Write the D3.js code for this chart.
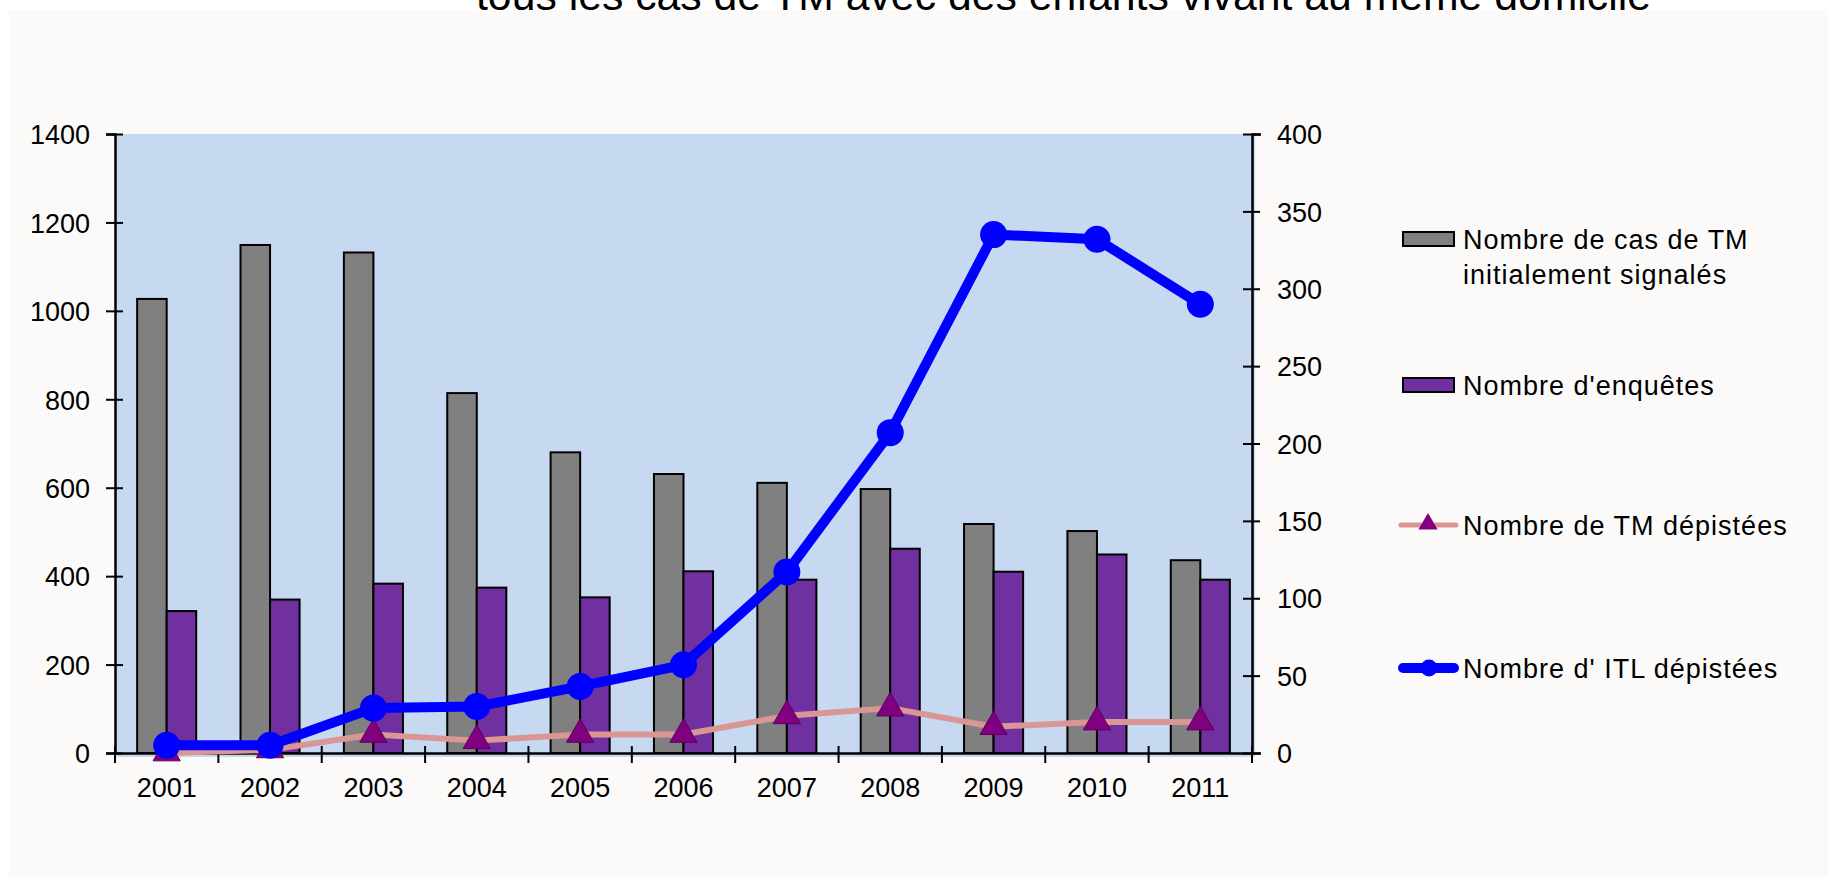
<!DOCTYPE html>
<html lang="fr">
<head>
<meta charset="utf-8">
<title>Cas de TM et ITL dépistées, 2001-2011</title>
<script src="https://cdn.jsdelivr.net/npm/d3@7/dist/d3.min.js"></script>
<style>
  html, body { margin: 0; padding: 0; background: #ffffff; }
  svg { display: block; }
  text { font-family: "Liberation Sans", Arial, Helvetica, sans-serif; fill: #000; }
</style>
</head>
<body>
<svg id="chart" width="1828" height="877"></svg>
<script>
// Years on the category axis
const years = ["2001", "2002", "2003", "2004", "2005", "2006", "2007", "2008", "2009", "2010", "2011"];

// Bars, left axis
const casSignales = [1027, 1149, 1132, 814, 680, 631, 611, 597, 518, 502, 436];
const enquetes    = [321, 347, 383, 374, 352, 411, 392, 462, 410, 449, 392];

// Lines, right axis
const tmDepistees  = [0, 2, 12, 8, 12, 12, 24, 29, 17, 20, 20];
const itlDepistees = [5, 5, 29, 30, 43, 57, 117, 207, 335, 332, 290];

// Tick values
const leftTicks  = [0, 200, 400, 600, 800, 1000, 1200, 1400];
const rightTicks = [0, 50, 100, 150, 200, 250, 300, 350, 400];

const titleText = "tous les cas de TM avec des enfants vivant au même domicile";

const legendItems = [
  { key: "cas", lines: ["Nombre de cas de TM", "initialement signalés"] },
  { key: "enq", lines: ["Nombre d'enquêtes"] },
  { key: "tm",  lines: ["Nombre de TM dépistées"] },
  { key: "itl", lines: ["Nombre d' ITL dépistées"] }
];

const colors = {
  page: "#ffffff",
  chartBg: "#fbfaf8",
  plotBg: "#c6d9f1",
  cas: "#808080",
  enq: "#7030a0",
  tmLine: "#d99694",
  tmMarker: "#800080",
  tmMarkerStroke: "#5c005c",
  itl: "#0000ff"
};

const svg = d3.select("#chart");

// Title (sits above the chart area, which overlaps its lower part)
svg.append("text")
  .attr("x", 476)
  .attr("y", 10)
  .attr("font-size", 43)
  .attr("textLength", 1175)
  .attr("lengthAdjust", "spacingAndGlyphs")
  .text(titleText);

// Chart area
svg.append("rect")
  .attr("x", 9).attr("y", 10)
  .attr("width", 1828 - 9).attr("height", 877 - 10)
  .attr("fill", colors.chartBg);

const plot = { left: 115, right: 1252, top: 134, bottom: 753 };

const x = d3.scaleBand().domain(years).range([plot.left, plot.right]).paddingInner(0).paddingOuter(0);
const xInner = d3.scaleBand().domain(["cas", "enq"]).range([0, x.bandwidth()]).paddingInner(0).paddingOuter(0.75);
const yL = d3.scaleLinear().domain([0, 1400]).range([plot.bottom, plot.top]);
const yR = d3.scaleLinear().domain([0, 400]).range([plot.bottom, plot.top]);

// Plot area background
svg.append("rect")
  .attr("x", plot.left).attr("y", plot.top)
  .attr("width", plot.right - plot.left + 3)
  .attr("height", plot.bottom - plot.top + 4)
  .attr("fill", colors.plotBg);

// Bars
const barData = years.map((yr, i) => ({ year: yr, cas: casSignales[i], enq: enquetes[i] }));
const groups = svg.append("g").selectAll("g")
  .data(barData).join("g")
  .attr("transform", d => `translate(${x(d.year)},0)`);

groups.selectAll("rect")
  .data(d => ["cas", "enq"].map(k => ({ key: k, value: d[k] })))
  .join("rect")
  .attr("x", d => xInner(d.key))
  .attr("y", d => yL(d.value))
  .attr("width", xInner.bandwidth())
  .attr("height", d => yL(0) - yL(d.value))
  .attr("fill", d => colors[d.key])
  .attr("stroke", "#000")
  .attr("stroke-width", 2);

// Left axis
const axisL = svg.append("g")
  .attr("transform", `translate(${plot.left},0)`)
  .call(d3.axisLeft(yL).tickValues(leftTicks).tickSize(9).tickPadding(0).tickFormat(d3.format("d")));
axisL.select(".domain").attr("stroke", "#000").attr("stroke-width", 2.5);
axisL.selectAll(".tick line").attr("x1", 8).attr("x2", -9).attr("stroke", "#000").attr("stroke-width", 2);
axisL.selectAll(".tick text")
  .attr("x", -25).attr("dy", "0.36em")
  .attr("font-size", 27).attr("fill", "#000")
  .style("font-family", "'Liberation Sans', Arial, sans-serif");

// Right axis
const axisR = svg.append("g")
  .attr("transform", `translate(${plot.right},0)`)
  .call(d3.axisRight(yR).tickValues(rightTicks).tickSize(9).tickPadding(0).tickFormat(d3.format("d")));
axisR.select(".domain").attr("stroke", "#000").attr("stroke-width", 2.5);
axisR.selectAll(".tick line").attr("x1", -9).attr("x2", 8).attr("stroke", "#000").attr("stroke-width", 2);
axisR.selectAll(".tick text")
  .attr("x", 25).attr("dy", "0.36em")
  .attr("font-size", 27).attr("fill", "#000")
  .style("font-family", "'Liberation Sans', Arial, sans-serif");

// Category axis
const axisX = svg.append("g")
  .attr("transform", `translate(0,${plot.bottom})`)
  .call(d3.axisBottom(x).tickSize(0).tickPadding(0));
axisX.select(".domain").attr("stroke", "#000").attr("stroke-width", 2.5);
axisX.selectAll(".tick text")
  .attr("y", 44).attr("dy", 0)
  .attr("font-size", 27).attr("fill", "#000")
  .style("font-family", "'Liberation Sans', Arial, sans-serif");

// Tick marks between categories
const boundaries = years.map(yr => x(yr)).concat([x(years[years.length - 1]) + x.step()]);
axisX.selectAll("line.boundary")
  .data(boundaries).join("line")
  .attr("class", "boundary")
  .attr("x1", d => d).attr("x2", d => d)
  .attr("y1", -7).attr("y2", 10)
  .attr("stroke", "#000").attr("stroke-width", 2);

const cx = yr => x(yr) + x.bandwidth() / 2;

// TM dépistées line with triangle markers
const tmLine = d3.line().x((d, i) => cx(years[i])).y(d => yR(d));
svg.append("path")
  .datum(tmDepistees)
  .attr("d", tmLine)
  .attr("fill", "none")
  .attr("stroke", colors.tmLine)
  .attr("stroke-width", 6)
  .attr("stroke-linejoin", "round");

const triangle = d3.symbol().type(d3.symbolTriangle).size(320);
svg.append("g").selectAll("path")
  .data(tmDepistees).join("path")
  .attr("d", triangle)
  .attr("transform", (d, i) => `translate(${cx(years[i])},${yR(d)})`)
  .attr("fill", colors.tmMarker)
  .attr("stroke", colors.tmMarkerStroke)
  .attr("stroke-width", 1);

// ITL dépistées line with round markers
const itlLine = d3.line().x((d, i) => cx(years[i])).y(d => yR(d));
svg.append("path")
  .datum(itlDepistees)
  .attr("d", itlLine)
  .attr("fill", "none")
  .attr("stroke", colors.itl)
  .attr("stroke-width", 10)
  .attr("stroke-linejoin", "round");

svg.append("g").selectAll("circle")
  .data(itlDepistees).join("circle")
  .attr("cx", (d, i) => cx(years[i]))
  .attr("cy", d => yR(d))
  .attr("r", 13.5)
  .attr("fill", colors.itl);

// Legend
const legendY = [239, 385, 525, 668];
const legend = svg.append("g");
legendItems.forEach((item, i) => {
  const g = legend.append("g").attr("transform", `translate(0,${legendY[i]})`);
  if (item.key === "cas" || item.key === "enq") {
    g.append("rect")
      .attr("x", 1403).attr("y", -7)
      .attr("width", 51).attr("height", 14)
      .attr("fill", colors[item.key])
      .attr("stroke", "#000").attr("stroke-width", 2);
  } else if (item.key === "tm") {
    g.append("line")
      .attr("x1", 1401).attr("x2", 1456).attr("y1", 0).attr("y2", 0)
      .attr("stroke", colors.tmLine).attr("stroke-width", 5).attr("stroke-linecap", "round");
    g.append("path")
      .attr("d", d3.symbol().type(d3.symbolTriangle).size(160)())
      .attr("transform", "translate(1428,-1)")
      .attr("fill", colors.tmMarker);
  } else {
    g.append("line")
      .attr("x1", 1403).attr("x2", 1454).attr("y1", 0).attr("y2", 0)
      .attr("stroke", colors.itl).attr("stroke-width", 10).attr("stroke-linecap", "round");
    g.append("circle")
      .attr("cx", 1429).attr("cy", 0).attr("r", 8.5)
      .attr("fill", colors.itl);
  }
  item.lines.forEach((ln, j) => {
    g.append("text")
      .attr("x", 1463)
      .attr("y", j * 35)
      .attr("dy", "0.36em")
      .attr("font-size", 27)
      .attr("letter-spacing", 1)
      .text(ln);
  });
});
</script>
</body>
</html>
